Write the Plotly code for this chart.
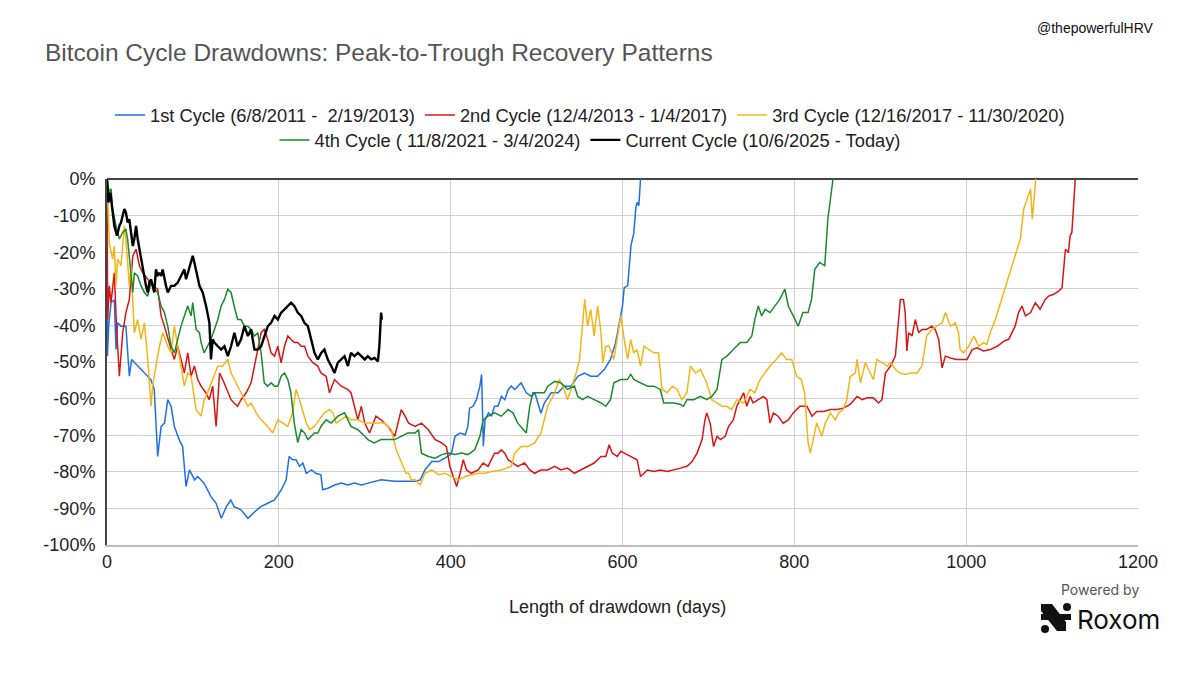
import plotly.graph_objects as go

# ---- data ----
CYCLE_NAMES = [
    "1st Cycle (6/8/2011 -  2/19/2013)",
    "2nd Cycle (12/4/2013 - 1/4/2017)",
    "3rd Cycle (12/16/2017 - 11/30/2020)",
    "4th Cycle ( 11/8/2021 - 3/4/2024)",
    "Current Cycle (10/6/2025 - Today)",
]

c1_days = [0, 0.5, 2, 4.7, 8.5, 10.5, 12.4, 16.3, 22, 26, 28.7, 35.7, 43.5, 51, 55, 57, 59, 63, 67, 70.7,
           74.6, 78.4, 84, 88, 92, 96, 102, 105.6, 113, 121, 127, 133, 139, 144, 148, 156, 164, 172, 179, 187,
           195, 203, 208.5, 212, 216, 220, 224, 228, 232, 238, 243, 249, 251, 257, 265, 273, 280, 288, 296, 304,
           319, 335, 343, 350, 359, 364.5, 370, 378, 386, 393, 401, 405, 411, 417, 420, 422, 426, 430, 434, 436,
           438, 440, 444, 447.5, 451, 455, 459, 463, 467, 470.6, 474.5, 482, 488, 494, 498, 505, 509, 517, 525, 532,
           540, 548, 555.6, 563, 571, 579, 586, 592, 596, 600, 602, 606, 610, 613, 615.6, 617, 619, 621]
c1_pct = [0, -48.4, -40, -33.8, -33, -46.6, -39.3, -40.2, -40.2, -53.9, -49.3, -51.1, -53, -54.8, -57.5, -65.8,
          -75.8, -67.6, -66.7, -60.3, -62.1, -67.6, -71.2, -73.1, -84, -79.5, -82.2, -81.3, -83.1, -86.8, -88.6,
          -92.7, -89.5, -87.7, -89.5, -90.4, -92.7, -90.9, -89.5, -88.6, -87.7, -84.9, -82.2, -75.8, -76.7, -76.7,
          -78.5, -77.6, -80.4, -79.5, -80.4, -80.8, -84.9, -84.5, -83.6, -83.1, -83.6, -83.1, -83.6, -83.1, -82.2,
          -82.6, -82.6, -82.4, -82.6, -82.2, -79.5, -77.2, -77.2, -76.3, -75, -70.3, -69.4, -69.9, -67.6, -62.6,
          -62.1, -60.3, -56.6, -53.4, -73, -65.8, -63.9, -64.8, -62.1, -62.1, -59.4, -60.3, -57.5, -56.6, -57.5,
          -55.7, -58.4, -59.4, -58.4, -64, -61.2, -58.4, -58.4, -56.6, -56.6, -53.9, -53, -53.9, -53.9, -52, -49.3,
          -44.7, -39.3, -34.7, -29.7, -29.2, -18, -15, -7.8, -6.4, -7.3, 0]

c2_days = [0, 0.8, 2.7, 4.7, 8.5, 11, 14.4, 18.3, 22, 26, 30, 33.8, 37.7, 41.5, 47.4, 53.2, 59, 63, 66.8, 70.7,
           74.6, 78.4, 82.3, 86.2, 90, 94, 97.9, 101.7, 105.6, 109.5, 115, 119, 123, 127, 131, 134.7, 140.6, 144.4,
           148, 152, 156, 162, 167.7, 171.6, 175.5, 179.4, 183, 187, 191, 195, 198.8, 202.7, 206.6, 210.5, 214, 218,
           222, 226, 230, 233.8, 239.6, 245.4, 249, 255, 259, 264.8, 272.6, 280, 284, 288, 292, 296, 300, 305.6,
           313, 319, 327, 335, 342.5, 347, 351, 358.7, 366, 374, 382, 389.6, 395, 399, 403, 407, 411, 414.7, 418.5,
           424, 432, 437.8, 443.6, 451, 455, 459, 463, 466.8, 472.6, 478, 486, 492, 497.7, 505, 513, 521, 528.5,
           536, 544, 551.7, 559.4, 567, 575, 580.6, 584.5, 588, 594, 598, 602, 609.6, 617, 621, 625, 629, 636.6,
           644, 652, 660, 667.5, 675, 681, 686.8, 692.6, 696, 698, 702, 706, 710, 714, 719.6, 723.5, 729, 733, 737,
           741, 744.7, 748.6, 752, 758, 764, 768, 771.7, 775.6, 781, 787, 793, 798.7, 806.5, 814.7, 820.6, 826,
           834, 842, 849.7, 857, 865, 873, 879, 884.6, 892, 898, 902, 906, 912, 917.6, 921.5, 923.4, 927, 929, 931,
           933, 937, 940.8, 944.7, 948.6, 954, 960, 964, 968, 972, 975.8, 981.6, 989, 997, 1001, 1007, 1012.6,
           1020, 1028, 1036, 1044, 1049.5, 1053, 1057, 1061, 1065, 1069, 1075, 1080.5, 1086, 1092, 1096, 1102,
           1108, 1111.6, 1113.5, 1115.5, 1119, 1121, 1123, 1125, 1127]
c2_pct = [0, -38.4, -29.2, -33.8, -25.6, -40, -53.9, -42, -36.5, -32.9, -21, -19.2, -23.7, -25.6, -27.4, -29.2,
          -30.1, -37.4, -40.2, -43.8, -46.6, -49.3, -45.7, -49.3, -53, -47.5, -53.9, -51.1, -54.8, -56.6, -58.4,
          -60.3, -56.6, -67.6, -53, -54.8, -58.4, -60.3, -61.2, -62.1, -60.3, -58.4, -55.7, -51.1, -47.5, -42,
          -41.1, -43.8, -47.5, -48.4, -45.7, -50.2, -45.7, -42.9, -43.8, -44.7, -44.7, -45.7, -45.7, -48.4, -50.2,
          -51.1, -53, -53.9, -58.4, -54.8, -56.6, -57.5, -58.4, -62.1, -65.8, -62.1, -66.7, -69.4, -64.8, -65.8,
          -67.6, -70.3, -63, -64.8, -66.7, -67.6, -66.7, -68.5, -71.2, -72.1, -73.1, -78.5, -81.3, -84, -80.4,
          -76.7, -79.5, -80.4, -79.5, -77.6, -78.5, -74.9, -74.9, -74, -74.9, -76.7, -77.6, -78.5, -77.6, -79.5,
          -80.4, -79.5, -79.5, -78.5, -79.5, -79, -80.4, -79.5, -78.5, -77.6, -75.8, -75.8, -72.6, -74.9, -75.8,
          -74.4, -74.9, -75.8, -76.7, -81.3, -80.4, -79.5, -79.9, -79.5, -79.9, -79.5, -79, -78.5, -77.2, -74.9,
          -71.2, -65.8, -63.9, -66.7, -73.1, -70.3, -71.2, -70.3, -67.6, -65.8, -62.1, -60.3, -58.4, -62.1, -59.4,
          -61.2, -60.3, -59.4, -60.3, -66.7, -63.9, -64.8, -66.7, -65.8, -63.9, -62.1, -62.1, -64.8, -63.5, -63.5,
          -63, -63, -62.6, -61.6, -59.4, -60.3, -59.8, -59.8, -61.2, -60.3, -53, -51.1, -48.4, -38.4, -32.9, -32.9,
          -36.5, -47, -42, -42.9, -38.4, -42, -41.1, -41.1, -40.2, -41.1, -43.8, -51.6, -48.4, -48.9, -49.3, -49.3,
          -49.3, -46.6, -46.1, -47, -46.6, -45.7, -44.3, -43.8, -42, -40.2, -36.5, -34.7, -37.4, -36.5, -33.8,
          -35.6, -32.9, -32, -31.5, -30.6, -29.7, -24.7, -19.2, -20.1, -15.5, -14.6, -8.2, 0]

c3_days = [0, 2.7, 6.6, 8.5, 10.5, 12.4, 16.3, 20.2, 22, 26, 28, 31.8, 35.7, 39.6, 43.5, 47.4, 51.3, 53, 57, 61,
           65, 70.7, 74.6, 78.4, 82.3, 86.2, 90, 94, 97.9, 103.7, 109.5, 113, 117, 123, 129, 134.7, 140.6, 144.4,
           148, 152, 156, 160, 164, 167.7, 173.6, 179.4, 187, 193, 198.8, 204.6, 210.5, 216, 220, 224, 228, 232,
           235.7, 241.5, 247, 253, 259, 263, 266.8, 272.6, 278.4, 284, 292, 300, 307.5, 315, 323, 331, 336.7, 343,
           348, 351, 354, 358.7, 364.5, 370, 378, 385.7, 393.4, 401, 409, 416.6, 424, 432, 440, 447.5, 459, 470.6,
           474.5, 482, 490, 497.7, 505, 509, 513, 521, 526.6, 532, 536, 540, 546, 550, 553.6, 556, 559.4, 563, 567,
           571, 575, 577, 580.6, 584.5, 590, 594, 598, 602, 606, 609.6, 613, 617, 621, 625, 631, 636.6, 642, 646,
           652, 658, 663.6, 669, 675, 679, 685, 690.7, 698, 704, 710, 715.7, 721.5, 727, 733, 741, 748.6, 754, 760,
           766, 771.7, 779, 785, 791, 797, 803, 808, 812, 816, 818.6, 822.5, 826, 832, 836, 842, 847.7, 851.6, 857,
           861, 865, 871, 873, 877, 882.6, 888.5, 892, 896, 902, 908, 911.8, 917.6, 923.4, 929, 935, 942.8, 948.6,
           954, 960, 966, 972, 975.8, 981.6, 987.4, 991, 993, 997, 1003, 1009, 1014.6, 1020, 1024, 1028, 1034,
           1040, 1045.6, 1051, 1055, 1059, 1063, 1067, 1071, 1075, 1077, 1079, 1081]
c3_pct = [0, -17.4, -21.9, -18.3, -29.2, -21.9, -23.7, -12.8, -16.4, -29.2, -23.7, -42, -38.4, -43.8, -39.3,
          -49.3, -62.1, -56.6, -51.1, -45.7, -42, -45.7, -47.5, -40.2, -45.7, -51.1, -56.6, -53, -53.9, -63, -64.8,
          -60.3, -58.4, -54.8, -51.1, -51.1, -49.3, -53, -54.8, -56.6, -58.4, -60.3, -62.1, -61.2, -63.9, -65.8,
          -67.6, -69.4, -65.8, -66.7, -67.6, -63.9, -57.5, -60.3, -63.9, -66.7, -68.5, -67.6, -65.8, -63.9, -63,
          -63.9, -66.7, -65.8, -64.8, -65.8, -65.8, -66.7, -66.7, -66.7, -66.7, -68.5, -74, -77.6, -80.4, -80.4,
          -82.2, -82.2, -83.6, -80.4, -79.5, -80.8, -80.4, -81.3, -82.2, -81.3, -80.8, -80.4, -80.4, -79.9, -79.5,
          -78.5, -74.9, -73.1, -73.1, -72.1, -69.4, -65.8, -62.1, -58.4, -54.8, -57.5, -60.3, -57.5, -53, -49.3,
          -40.2, -32.9, -40.2, -35.6, -42.9, -34.7, -42, -50.2, -45.7, -45.7, -49.3, -42.9, -37.4, -43.8, -49.3,
          -43.8, -47.5, -46.6, -51.1, -45.7, -46.6, -47.5, -47.5, -57.5, -58.4, -56.6, -57.5, -60.3, -58.4, -51.1,
          -53, -52, -55.7, -60.3, -61.2, -62.1, -62.1, -63, -60.3, -61.2, -57.5, -58.4, -54.8, -53, -51.1, -49.3,
          -47.5, -49.3, -49.3, -54, -54.8, -58.4, -72, -74.9, -70.3, -66.7, -70.3, -66.7, -63.9, -65.8, -63.9, -63,
          -60.3, -54, -53, -49.3, -55.7, -50.2, -53, -54.8, -49.3, -50.2, -51.1, -50.2, -52, -53, -53.4, -53, -53,
          -51.1, -42.9, -41.1, -40.2, -39.3, -36.5, -40.2, -39.3, -42, -46.6, -47.5, -45.7, -42.9, -45.7, -44.7,
          -45.2, -42, -38.4, -33.8, -29.2, -25.6, -21.9, -19.2, -16.4, -8.2, -5.5, -2.7, -11, -5.5, 0]

c4_days = [0, 2.7, 4.7, 6.6, 10.5, 14.4, 18.3, 22, 24, 28, 30, 31.8, 35.7, 39.6, 43.5, 47.4, 51.3, 55, 59, 63,
           66.8, 70.7, 74.6, 78.4, 82.3, 86.2, 90, 94, 97.9, 99.8, 103.7, 107.6, 109.5, 113, 117, 121, 125, 129,
           132.8, 136.7, 140.6, 144.4, 148, 152, 156, 160, 164, 167.7, 171.6, 175.5, 179.4, 183, 187, 191, 195,
           198.8, 202.7, 206.6, 210.5, 214, 218, 222, 226, 230, 233.8, 237.6, 241.5, 245.4, 249, 255, 261, 268.7,
           276.5, 284, 292, 300, 303.6, 311, 319, 327, 334.7, 342.5, 350, 358.7, 362.6, 366, 374, 382, 389.6, 397,
           405, 412.7, 420, 428, 434, 437.8, 443.6, 451, 459, 466.8, 472.6, 478, 484, 488, 492, 495.7, 501.5, 509,
           513, 521, 528.5, 536, 544, 548, 553.6, 559.4, 567, 575, 580.6, 586, 590, 598, 605.7, 609.6, 613.5, 621,
           629, 636.6, 644, 648, 652, 660, 667.5, 671, 675, 683, 690.7, 698, 704, 710, 715.7, 721.5, 729, 737,
           744.7, 750.5, 754, 758, 762, 766, 771.7, 777.5, 783, 789, 793, 798.7, 804.5, 810, 816, 820, 823.8,
           829.6, 835.4, 839, 841, 845]
c4_pct = [0, -3.7, -2.7, -8.2, -12.8, -16.4, -14.6, -13.7, -16.4, -26.5, -31, -25.6, -26.5, -29.2, -31, -32,
          -28.3, -30.1, -31, -34.7, -36.5, -40.2, -45.7, -47.5, -43.8, -40.2, -37.4, -34.7, -37.4, -33.8, -41.1,
          -42, -44.7, -47.5, -45.7, -43.8, -41.1, -38.4, -34.7, -32.9, -30.1, -31, -34.7, -38.4, -38.4, -40.2,
          -40.2, -41.1, -42.9, -42, -47.5, -55.7, -56.6, -55.7, -56.6, -56.6, -53.9, -53, -54.8, -58.4, -66.7,
          -72, -68.5, -69.4, -71.2, -70.3, -69.4, -69.4, -67.6, -65.8, -66.7, -64.8, -63.9, -67.6, -68.5, -70.3,
          -71.2, -72.1, -71.2, -71.2, -71.2, -70.3, -69.4, -69.4, -68.5, -74.9, -75.8, -76.3, -75.3, -74.9, -75.3,
          -74.9, -75.3, -74, -70.3, -65.8, -64.8, -63.9, -64.8, -63, -63.9, -66.7, -68.5, -69.4, -62.1, -58.4,
          -58.4, -58.4, -56.6, -55.3, -55.7, -57.5, -56.6, -59.4, -60.3, -59.4, -60.3, -61.2, -62.1, -60.3, -55.7,
          -54.8, -54.8, -53.4, -54.8, -55.7, -56.6, -56.6, -57.5, -61.2, -61.2, -61.2, -61.6, -62.1, -60.3, -60.3,
          -59.4, -60.3, -59.4, -57.5, -49.3, -48.4, -46.6, -44.7, -44.7, -42.9, -38.4, -34.7, -37.4, -35.6, -36.5,
          -34.7, -32.9, -30.1, -34.7, -37.4, -40.2, -36.5, -36.5, -32.9, -24.7, -22.8, -23.7, -11, -7.3, 0]

c5_days = [0, 1.6, 3.9, 5.8, 8.5, 11.6, 14.4, 16.3, 20.2, 22, 24, 26, 28, 30, 31.8, 33.8, 35.7, 37.7, 39.6, 41.5,
           43.5, 45.4, 47.4, 49.3, 51.3, 53.2, 55, 57, 59, 61, 63, 64.8, 66.8, 68.7, 70.7, 72.6, 74.6, 78.4, 82.3,
           86.2, 90, 92, 96, 99.8, 101.7, 103.7, 105.6, 107.6, 111.4, 115.3, 119.2, 121, 123, 125, 129, 132.8,
           136.7, 140.6, 144.4, 148.3, 152, 156, 160, 164, 167.7, 171.6, 175.5, 179.4, 183.3, 187.2, 191, 195,
           198.8, 202.7, 206.6, 210.5, 214.3, 218, 222, 226, 229.8, 233.8, 237.6, 241.5, 245.4, 249.3, 253, 257,
           261, 264.8, 268.7, 272.6, 276.5, 280.4, 284, 288, 292, 296, 300, 303.6, 307.5, 311.4, 315.3, 317, 319, 320]
c5_pct = [0, -6.4, -3.7, -8.2, -12.8, -15.5, -12.8, -11.9, -8.2, -9.1, -11.9, -11, -15.5, -18.3, -16.4, -12.8,
          -16.4, -19.2, -21.9, -24.7, -26.5, -29.2, -31, -28.3, -27.4, -29.2, -31, -24.7, -26.5, -25.6, -26.5,
          -24.7, -27.4, -29.2, -31, -30.1, -29.2, -29.2, -28.3, -26.5, -24.7, -27.4, -23.7, -21, -22.8, -24.7,
          -26.5, -29.2, -31, -34.7, -39.3, -49.3, -43.8, -44.7, -45.7, -46.6, -45.7, -48.4, -45.7, -42, -45.7,
          -43.8, -40.2, -42.9, -41.1, -46.6, -46.6, -45.7, -42.9, -40.2, -39.3, -37.4, -38.4, -36.5, -35.6, -34.7,
          -33.8, -34.7, -36.5, -37.4, -39.3, -40.2, -43.8, -47.5, -49.3, -47.5, -46.6, -49.3, -51.1, -53, -50.2,
          -49.3, -48.4, -51.1, -47.5, -48.4, -47.5, -48.4, -49.3, -48.4, -49.3, -48.9, -49.8, -45.7, -36.5, -38.4]

X_TICKS = [0, 200, 400, 600, 800, 1000, 1200]
Y_TICKS = [-100, -90, -80, -70, -60, -50, -40, -30, -20, -10, 0]
Y_TICK_LABELS = ["-100%", "-90%", "-80%", "-70%", "-60%", "-50%", "-40%", "-30%", "-20%", "-10%", "0%"]

COLORS = ["#1f6fe6", "#dc1414", "#f4b516", "#1a8a2c", "#000000"]

# plot area in pixels (used for placing extra text / logo)
W, H = 1200, 692
L, R, T, B = 107, 1138, 179, 545


def px(x):
    return (x - L) / (R - L)


def py(y):
    return (B - y) / (B - T)


fig = go.Figure()

series = [(c1_days, c1_pct), (c2_days, c2_pct), (c3_days, c3_pct), (c4_days, c4_pct), (c5_days, c5_pct)]
for i, (d, p) in enumerate(series):
    fig.add_trace(go.Scatter(
        x=d, y=p, mode="lines", name=CYCLE_NAMES[i],
        line=dict(color=COLORS[i], width=2.4 if i == 4 else 1.5),
        legend="legend" if i < 3 else "legend2",
    ))

legend_common = dict(orientation="h", xanchor="center", x=px(590), yanchor="middle",
                     font=dict(family="Liberation Sans, Arial", size=18.3, color="#222222"),
                     bgcolor="rgba(0,0,0,0)", itemwidth=30, tracegroupgap=0)

fig.update_layout(
    width=W, height=H,
    margin=dict(l=L, r=W - R, t=T, b=H - B),
    paper_bgcolor="#ffffff", plot_bgcolor="#ffffff",
    font=dict(family="Liberation Sans, Arial", color="#222222"),
    title=dict(text="Bitcoin Cycle Drawdowns: Peak-to-Trough Recovery Patterns",
               x=45 / W, xanchor="left", y=1 - 52 / H, yanchor="middle",
               font=dict(family="Liberation Sans, Arial", size=24.5, color="#555555")),
    legend=dict(legend_common, y=py(115)),
    legend2=dict(legend_common, y=py(140)),
    showlegend=True,
)

fig.update_xaxes(range=[0, 1200], tickvals=X_TICKS, showgrid=True, gridcolor="#cfcfcf", gridwidth=1,
                 zeroline=False, showline=True, linecolor="#bdbdbd", linewidth=1.5,
                 tickfont=dict(size=18, color="#222222"), ticks="", ticklabelstandoff=0)
fig.update_yaxes(range=[-100, 0], tickvals=Y_TICKS, ticktext=Y_TICK_LABELS, showgrid=True,
                 gridcolor="#cfcfcf", gridwidth=1, zeroline=True, zerolinecolor="#444444", zerolinewidth=2,
                 showline=True, linecolor="#444444", linewidth=2,
                 tickfont=dict(size=18, color="#222222"), ticks="", ticklabelstandoff=6)

# axis title, watermark, "Powered by Roxom"
fig.add_annotation(text="Length of drawdown (days)", xref="paper", yref="paper", x=px(617), y=py(607),
                   xanchor="center", yanchor="middle", showarrow=False, font=dict(size=18, color="#222222"))
fig.add_annotation(text="@thepowerfulHRV", xref="paper", yref="paper", x=px(1156), y=py(28),
                   xanchor="right", yanchor="middle", showarrow=False, font=dict(size=14, color="#111111"))
fig.add_annotation(text="Powered by", xref="paper", yref="paper", x=px(1100), y=py(589),
                   xanchor="center", yanchor="middle", showarrow=False,
                   font=dict(family="Inter, Roboto", size=14, color="#555555"))
fig.add_annotation(text="Roxom", xref="paper", yref="paper", x=px(1075), y=py(619), xanchor="left",
                   yanchor="middle", showarrow=False, font=dict(family="Inter, Roboto", size=26, color="#111111"))

# Roxom logo mark
logo_band = [(1041, 604), (1052, 604), (1066, 622), (1066, 631), (1057, 631), (1041, 611)]
path = "M " + " L ".join(f"{px(a):.5f},{py(b):.5f}" for a, b in logo_band) + " Z"
fig.add_shape(type="path", path=path, xref="paper", yref="paper", fillcolor="#111111", line_width=0)
for x0, y0, x1, y1 in [(1041, 614, 1052, 620), (1057, 614, 1071, 620)]:
    fig.add_shape(type="rect", xref="paper", yref="paper", x0=px(x0), x1=px(x1), y0=py(y1), y1=py(y0),
                  fillcolor="#111111", line_width=0)
for cx, cy in [(1067, 607), (1045, 629)]:
    fig.add_shape(type="circle", xref="paper", yref="paper", x0=px(cx - 4), x1=px(cx + 4),
                  y0=py(cy + 4), y1=py(cy - 4), fillcolor="#111111", line_width=0)

# page body has a default 8px margin; drop it so the figure fills the window exactly
fig.write_html("out.html", config={"displayModeBar": False},
               post_script="document.body.style.margin = '0';")
